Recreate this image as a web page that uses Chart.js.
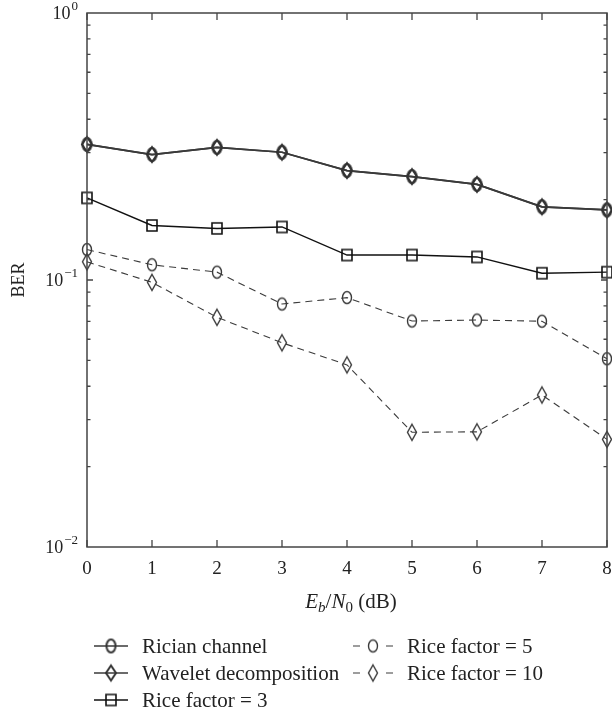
<!DOCTYPE html>
<html>
<head>
<meta charset="utf-8">
<script src="https://cdn.jsdelivr.net/npm/chart.js@4.4.0/dist/chart.umd.min.js"></script>
<style>
  html, body { margin: 0; padding: 0; background: #fff; overflow: hidden; }
  canvas { display: block; }
</style>
</head>
<body>
<canvas id="berChart" width="612" height="715"></canvas>
<script>
// --- data ---
const ebn0 = [0, 1, 2, 3, 4, 5, 6, 7, 8];
const ricianChannel = [0.322, 0.295, 0.314, 0.301, 0.257, 0.244, 0.228, 0.188, 0.183];
const waveletDecomposition = [0.322, 0.295, 0.314, 0.301, 0.257, 0.244, 0.228, 0.188, 0.183];
const riceFactor3 = [0.203, 0.160, 0.156, 0.158, 0.124, 0.124, 0.122, 0.106, 0.107];
const riceFactor5 = [0.130, 0.114, 0.107, 0.0813, 0.0859, 0.0702, 0.0708, 0.0701, 0.0507];
const riceFactor10 = [0.117, 0.098, 0.0725, 0.0582, 0.0481, 0.0269, 0.0270, 0.0371, 0.0253];
const yTickExps = [0, -1, -2];

const SERIF = '"Liberation Serif", "DejaVu Serif", serif';

// small marker images (ellipse / tall diamond / square), transparent inside
function makeMarker(shape, w, h, lw, color) {
    const c = document.createElement('canvas');
    c.width = Math.ceil(w + lw * 2 + 2);
    c.height = Math.ceil(h + lw * 2 + 2);
    const g = c.getContext('2d');
    const cx = c.width / 2, cy = c.height / 2;
    g.strokeStyle = color;
    g.lineWidth = lw;
    g.beginPath();
    if (shape === 'ellipse') {
        g.ellipse(cx, cy, w / 2, h / 2, 0, 0, Math.PI * 2);
    } else if (shape === 'diamond') {
        g.moveTo(cx, cy - h / 2);
        g.lineTo(cx + w / 2, cy);
        g.lineTo(cx, cy + h / 2);
        g.lineTo(cx - w / 2, cy);
        g.closePath();
    } else {
        g.rect(cx - w / 2, cy - h / 2, w, h);
    }
    g.stroke();
    return c;
}

const mkEllipseSolid = makeMarker('ellipse', 9, 13, 2, '#333');
const mkDiamondSolid = makeMarker('diamond', 10, 15, 2, '#333');
const mkSquare = makeMarker('square', 10, 11, 1.6, '#111');
const mkEllipseDash = makeMarker('ellipse', 9, 12, 1.4, '#3a3a3a');
const mkDiamondDash = makeMarker('diamond', 9, 16, 1.4, '#3a3a3a');

function series(label, data, color, width, dash, marker) {
    return {
        label: label,
        data: data.map((v, i) => ({ x: ebn0[i], y: v })),
        borderColor: color,
        borderWidth: width,
        borderDash: dash,
        pointStyle: marker,
        pointRadius: 6,
        pointHoverRadius: 6,
        tension: 0,
        fill: false,
        clip: false
    };
}

const datasets = [
    series('Rician channel', ricianChannel, '#3a3a3a', 1.7, [], mkEllipseSolid),
    series('Wavelet decomposition', waveletDecomposition, '#3a3a3a', 1.7, [], mkDiamondSolid),
    series('Rice factor = 3', riceFactor3, '#111', 1.4, [], mkSquare),
    series('Rice factor = 5', riceFactor5, '#3c3c3c', 1.1, [7, 5], mkEllipseDash),
    series('Rice factor = 10', riceFactor10, '#3c3c3c', 1.1, [7, 5], mkDiamondDash)
];

// legend positions (two columns, three rows)
const legendSlots = [
    { x: 94, y: 646, len: 34 },
    { x: 94, y: 673, len: 34 },
    { x: 94, y: 700, len: 34 },
    { x: 353, y: 646, len: 40 },
    { x: 353, y: 673, len: 40 }
];

const framePlugin = {
    id: 'frame',
    afterDatasetsDraw(chart) {
        const { ctx, chartArea: a, scales } = chart;
        const xs = scales.x, ys = scales.y;
        ctx.save();
        ctx.strokeStyle = '#444';
        ctx.lineWidth = 1.5;
        ctx.strokeRect(a.left, a.top, a.right - a.left, a.bottom - a.top);

        // x ticks inward (bottom and top) + labels
        ctx.lineWidth = 1.3;
        ctx.fillStyle = '#222';
        ctx.font = '19px ' + SERIF;
        ctx.textAlign = 'center';
        ctx.textBaseline = 'middle';
        ebn0.forEach(v => {
            const px = xs.getPixelForValue(v);
            ctx.beginPath();
            ctx.moveTo(px, a.bottom); ctx.lineTo(px, a.bottom - 7);
            ctx.moveTo(px, a.top); ctx.lineTo(px, a.top + 7);
            ctx.stroke();
            ctx.fillText(String(v), px, a.bottom + 22);
        });
        // y ticks inward (left and right), minor 2..9
        for (let e = -2; e < 0; e++) {
            for (let m = 1; m <= 9; m++) {
                const v = m * Math.pow(10, e);
                if (m === 1 && e === -2) continue;
                const py = ys.getPixelForValue(v);
                const len = m === 1 ? 6 : 3.5;
                ctx.beginPath();
                ctx.moveTo(a.left, py); ctx.lineTo(a.left + len, py);
                ctx.moveTo(a.right, py); ctx.lineTo(a.right - len, py);
                ctx.stroke();
            }
        }

        // y tick labels 10^k
        yTickExps.forEach(k => {
            const py = ys.getPixelForValue(Math.pow(10, k));
            const supTxt = k < 0 ? '\u2212' + Math.abs(k) : String(k);
            ctx.font = '13px ' + SERIF;
            const sw = ctx.measureText(supTxt).width;
            const right = 78;
            ctx.textAlign = 'left';
            ctx.fillText(supTxt, right - sw, py - 6);
            ctx.font = '18px ' + SERIF;
            ctx.textAlign = 'right';
            ctx.fillText('10', right - sw - 1, py + 1);
        });

        // y title
        ctx.save();
        ctx.translate(19, 280);
        ctx.rotate(-Math.PI / 2);
        ctx.font = '18px ' + SERIF;
        ctx.textAlign = 'center';
        ctx.fillText('BER', 0, 0);
        ctx.restore();

        // x title: Eb/N0 (dB)
        const parts = [
            { t: 'E', f: 'italic 21px ' + SERIF, dy: 0 },
            { t: 'b', f: 'italic 15px ' + SERIF, dy: 4 },
            { t: '/', f: '21px ' + SERIF, dy: 0 },
            { t: 'N', f: 'italic 21px ' + SERIF, dy: 0 },
            { t: '0', f: '15px ' + SERIF, dy: 4 },
            { t: ' (dB)', f: '21px ' + SERIF, dy: 0 }
        ];
        let total = 0;
        parts.forEach(p => { ctx.font = p.f; p.w = ctx.measureText(p.t).width; total += p.w; });
        let tx = 351 - total / 2;
        ctx.textAlign = 'left';
        ctx.textBaseline = 'alphabetic';
        parts.forEach(p => {
            ctx.font = p.f;
            ctx.fillText(p.t, tx, 608 + p.dy);
            tx += p.w;
        });

        // legend
        chart.data.datasets.forEach((ds, i) => {
            const s = legendSlots[i];
            ctx.strokeStyle = ds.borderColor;
            ctx.lineWidth = ds.borderWidth;
            ctx.setLineDash([]);
            ctx.beginPath();
            if (ds.borderDash.length) {
                ctx.moveTo(s.x, s.y); ctx.lineTo(s.x + 7, s.y);
                ctx.moveTo(s.x + s.len - 7, s.y); ctx.lineTo(s.x + s.len, s.y);
            } else {
                ctx.moveTo(s.x, s.y); ctx.lineTo(s.x + s.len, s.y);
            }
            ctx.stroke();
            const img = ds.pointStyle;
            ctx.drawImage(img, s.x + s.len / 2 - img.width / 2, s.y - img.height / 2);
            ctx.fillStyle = '#222';
            ctx.font = '21px ' + SERIF;
            ctx.textBaseline = 'middle';
            ctx.fillText(ds.label, s.x + s.len + 14, s.y + 1);
        });
        ctx.restore();
    }
};

const chart = new Chart(document.getElementById('berChart'), {
    type: 'line',
    data: { datasets: datasets },
    options: {
        responsive: false,
        animation: false,
        layout: { autoPadding: false, padding: { left: 0, top: 13, right: 5, bottom: 0 } },
        scales: {
            x: {
                type: 'linear',
                min: 0,
                max: 8,
                ticks: { stepSize: 1, display: false },
                grid: { display: false, drawTicks: false },
                border: { display: false },
                afterFit: s => { s.height = 168; }
            },
            y: {
                type: 'logarithmic',
                min: 0.01,
                max: 1,
                ticks: { display: false },
                grid: { display: false, drawTicks: false },
                border: { display: false },
                afterFit: s => { s.width = 87; }
            }
        },
        plugins: {
            legend: { display: false },
            tooltip: { enabled: false }
        }
    },
    plugins: [framePlugin]
});
</script>
</body>
</html>
